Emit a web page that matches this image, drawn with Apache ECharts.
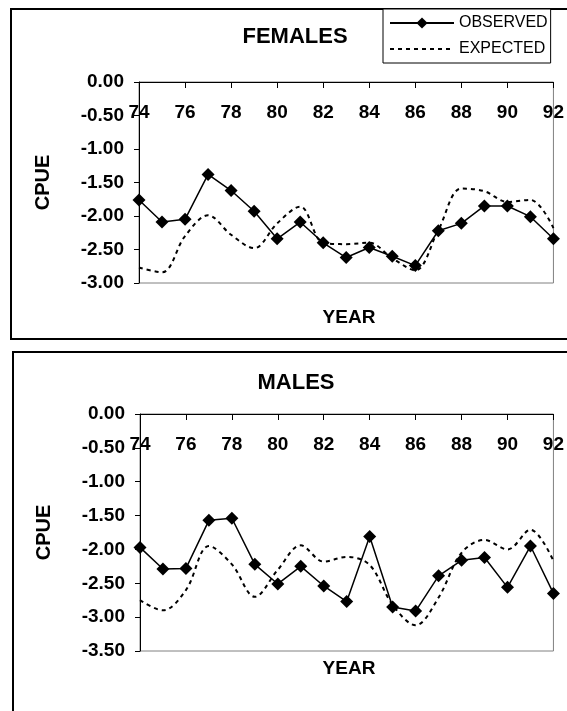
<!DOCTYPE html>
<html>
<head>
<meta charset="utf-8">
<script src="https://cdn.jsdelivr.net/npm/echarts@6/dist/echarts.min.js"></script>
<style>
html,body{margin:0;padding:0;background:#fff;}
#chart{width:567px;height:711px;}
</style>
</head>
<body>
<div id="chart"></div>
<script>
var years = [74,75,76,77,78,79,80,81,82,83,84,85,86,87,88,89,90,91,92];
var xTicks = [74,76,78,80,82,84,86,88,90,92];
var femalesObserved = [-1.76,-2.09,-2.05,-1.38,-1.62,-1.93,-2.34,-2.09,-2.40,-2.62,-2.47,-2.60,-2.74,-2.22,-2.11,-1.85,-1.85,-2.01,-2.34];
var femalesExpected = [-2.77,-2.84,-2.30,-1.99,-2.28,-2.48,-2.11,-1.86,-2.40,-2.42,-2.40,-2.63,-2.81,-2.21,-1.59,-1.63,-1.79,-1.76,-2.18];
var malesObserved = [-1.97,-2.29,-2.28,-1.57,-1.54,-2.22,-2.51,-2.25,-2.54,-2.77,-1.81,-2.85,-2.91,-2.39,-2.16,-2.12,-2.56,-1.95,-2.65];
var malesExpected = [-2.75,-2.90,-2.60,-1.95,-2.22,-2.70,-2.30,-1.94,-2.18,-2.11,-2.23,-2.82,-3.12,-2.71,-2.05,-1.86,-2.00,-1.71,-2.17];
var titles = ['FEMALES','MALES'];
var seriesNames = ['OBSERVED','EXPECTED'];

var FONT = '"Liberation Sans", Arial, sans-serif';
function pairs(v){ return years.map(function(y,i){ return [y, v[i]]; }); }

function xAxis(gi){
  return {
    type:'value', gridIndex:gi, min:xTicks[0], max:xTicks[xTicks.length-1], interval:2,
    position:'top',
    axisLine:{show:true, onZero:false, lineStyle:{color:'#000', width:1}},
    axisTick:{show:true, inside:true, length:6, lineStyle:{color:'#000'}},
    axisLabel:{inside:true, margin:21, fontSize:19, fontWeight:'bold', color:'#000', fontFamily:FONT,
      showMinLabel:true, showMaxLabel:true},
    splitLine:{show:false}
  };
}
function yAxis(gi, min){
  return {
    type:'value', gridIndex:gi, min:min, max:0, interval:0.5,
    name:'CPUE', nameLocation:'middle', nameGap:86, nameRotate:90,
    nameTextStyle:{fontSize:20, fontWeight:'bold', color:'#000', fontFamily:FONT},
    axisLine:{show:true, onZero:false, lineStyle:{color:'#000', width:1}},
    axisTick:{show:true, inside:false, length:5, lineStyle:{color:'#000'}},
    axisLabel:{margin:15, fontSize:19, fontWeight:'bold', color:'#000', fontFamily:FONT,
      formatter:function(v){ return v.toFixed(2); }},
    splitLine:{show:false}
  };
}
function obs(gi, data){
  return {name:seriesNames[0], type:'line', xAxisIndex:gi, yAxisIndex:gi, data:pairs(data),
    symbol:'diamond', symbolSize:13, z:3,
    lineStyle:{color:'#000', width:1.5}, itemStyle:{color:'#000'}};
}
function exp(gi, data){
  return {name:seriesNames[1], type:'line', xAxisIndex:gi, yAxisIndex:gi, data:pairs(data),
    symbol:'none', smooth:0.35, z:2,
    lineStyle:{color:'#000', width:2, type:[4,4]}, itemStyle:{color:'#000'}};
}

var chart = echarts.init(document.getElementById('chart'), null, {renderer:'canvas'});
chart.setOption({
  animation:false,
  backgroundColor:'#fff',
  grid:[
    {left:139, top:82, width:420, height:201, show:true, borderColor:'#808080', borderWidth:1, containLabel:false},
    {left:140, top:414, width:419, height:237, show:true, borderColor:'#808080', borderWidth:1, containLabel:false}
  ],
  xAxis:[xAxis(0), xAxis(1)],
  yAxis:[yAxis(0,-3), yAxis(1,-3.5)],
  legend:{
    data:[{name:seriesNames[0], itemStyle:{color:'#000'}},
          {name:seriesNames[1], itemStyle:{opacity:0}, lineStyle:{color:'#000', width:2, type:[4,4], opacity:1}}],
    orient:'vertical', left:383, top:9,
    borderColor:'#000', borderWidth:1, padding:[6,3,6,6],
    itemWidth:64, itemHeight:14, itemGap:10,
    textStyle:{fontSize:16, color:'#000', fontFamily:FONT},
    backgroundColor:'#fff'
  },
  graphic:[
    {type:'rect', shape:{x:11, y:9, width:600, height:330}, style:{fill:'none', stroke:'#000', lineWidth:2}, z:-1},
    {type:'rect', shape:{x:13, y:352, width:600, height:400}, style:{fill:'none', stroke:'#000', lineWidth:2}, z:-1},
    {type:'text', x:295, y:37, style:{text:titles[0], font:'bold 22px '+FONT, fill:'#000', textAlign:'center', textVerticalAlign:'middle'}},
    {type:'text', x:296, y:383, style:{text:titles[1], font:'bold 22px '+FONT, fill:'#000', textAlign:'center', textVerticalAlign:'middle'}},
    {type:'text', x:349, y:318, style:{text:'YEAR', font:'bold 19px '+FONT, fill:'#000', textAlign:'center', textVerticalAlign:'middle'}},
    {type:'text', x:349, y:669, style:{text:'YEAR', font:'bold 19px '+FONT, fill:'#000', textAlign:'center', textVerticalAlign:'middle'}}
  ],
  series:[
    exp(0, femalesExpected), obs(0, femalesObserved),
    exp(1, malesExpected), obs(1, malesObserved)
  ]
});
</script>
</body>
</html>
